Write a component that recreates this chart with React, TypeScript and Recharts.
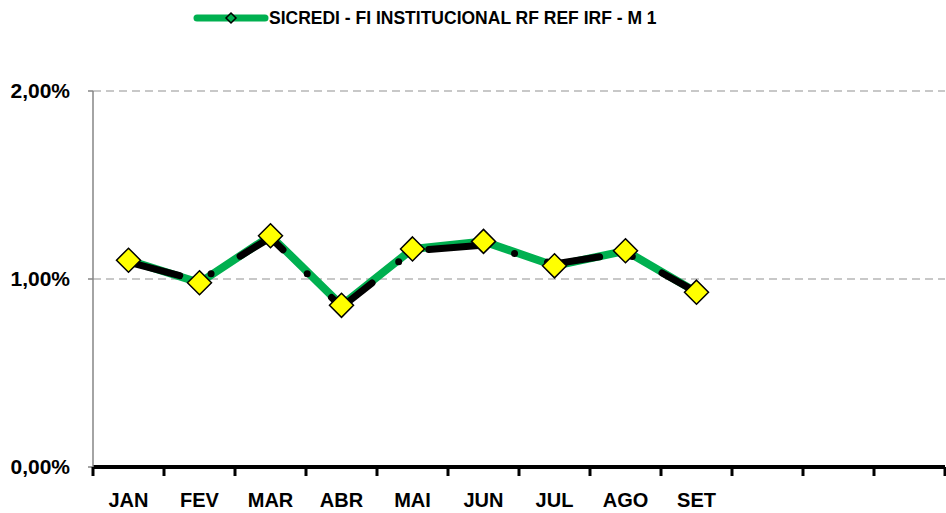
import { LineChart, Line, XAxis, YAxis, CartesianGrid, Legend } from 'recharts'

const MONTHS = ['JAN', 'FEV', 'MAR', 'ABR', 'MAI', 'JUN', 'JUL', 'AGO', 'SET', 'OUT', 'NOV', 'DEZ']
// only months with data get a label
const MONTH_LABELS = ['JAN', 'FEV', 'MAR', 'ABR', 'MAI', 'JUN', 'JUL', 'AGO', 'SET', '', '', '']
const FUND = [1.10, 0.98, 1.23, 0.86, 1.16, 1.20, 1.07, 1.15, 0.93, null, null, null]
const BENCH = [1.09, 0.99, 1.22, 0.85, 1.15, 1.18, 1.08, 1.14, 0.93, null, null, null]
const Y_TICKS = [0, 1, 2]
const FUND_NAME = 'SICREDI - FI INSTITUCIONAL RF REF IRF - M 1'

const W = 946
const H = 513
const Y_AXIS_W = 93
const RIGHT = 1
const LEGEND_H = 36
const BAND = (W - Y_AXIS_W - RIGHT) / MONTHS.length
const GREEN = '#00b050'
const FONT = '"Liberation Sans", Arial, sans-serif'

const data = MONTHS.map((m, i) => ({ month: m, fund: FUND[i], bench: BENCH[i] }))

const fmtPct = (v: number) => v.toFixed(2).replace('.', ',') + '%'

function Diamond(props: any) {
  const { cx, cy, index } = props
  if (cx == null || cy == null) return <g key={`d-${index}`} />
  const r = 12
  return (
    <polygon
      key={`d-${index}`}
      points={`${cx},${cy - r} ${cx + r},${cy} ${cx},${cy + r} ${cx - r},${cy}`}
      fill="#ffff00"
      stroke="#000"
      strokeWidth={1.5}
    />
  )
}

function MonthTick(props: any) {
  const { x, y, index } = props
  const left = x - BAND / 2
  const last = index === MONTHS.length - 1
  return (
    <g>
      <line x1={left} y1={y} x2={left} y2={y + 9} stroke="#000" strokeWidth={3} />
      {last && <line x1={x + BAND / 2} y1={y} x2={x + BAND / 2} y2={y + 9} stroke="#000" strokeWidth={3} />}
      <text x={x} y={y + 40} textAnchor="middle" fontSize={20} fontWeight="bold" fontFamily={FONT} fill="#000">
        {MONTH_LABELS[index]}
      </text>
    </g>
  )
}

function LegendBox() {
  const cx = 231
  const cy = 18
  const r = 5
  return (
    <svg width={W} height={LEGEND_H} style={{ display: 'block' }}>
      <line x1={197} y1={cy} x2={265} y2={cy} stroke={GREEN} strokeWidth={7} strokeLinecap="round" />
      <polygon
        points={`${cx},${cy - r} ${cx + r},${cy} ${cx},${cy + r} ${cx - r},${cy}`}
        fill={GREEN}
        stroke="#000"
        strokeWidth={1.5}
      />
      <text x={269} y={24} fontSize={17.5} fontWeight="bold" fontFamily={FONT} fill="#000">
        {FUND_NAME}
      </text>
    </svg>
  )
}

export default function App() {
  return (
    <div style={{ position: 'absolute', left: 0, top: 0, width: W, height: H, background: '#fff' }}>
      <LineChart
        width={W}
        height={H}
        data={data}
        margin={{ top: 91 - LEGEND_H, right: RIGHT, bottom: 0, left: 0 }}
      >
        <Legend
          verticalAlign="top"
          align="left"
          wrapperStyle={{ top: 0, left: 0 }}
          content={() => <LegendBox />}
        />
        <CartesianGrid vertical={false} stroke="#c8c8c8" strokeWidth={2} strokeDasharray="8 5" />
        <XAxis
          dataKey="month"
          scale="band"
          interval={0}
          height={46}
          tickSize={0}
          tickMargin={0}
          tickLine={false}
          axisLine={{ stroke: '#000', strokeWidth: 4 }}
          tick={<MonthTick />}
        />
        <YAxis
          width={Y_AXIS_W}
          domain={[0, 2]}
          ticks={Y_TICKS}
          tickFormatter={fmtPct}
          tickSize={5}
          tickMargin={18}
          axisLine={{ stroke: '#868686', strokeWidth: 1.5 }}
          tickLine={{ stroke: '#868686', strokeWidth: 1.5 }}
          tick={{ fontSize: 21, fontWeight: 'bold', fontFamily: FONT, fill: '#000' }}
        />
        <Line
          dataKey="fund"
          name={FUND_NAME}
          stroke={GREEN}
          strokeWidth={8}
          strokeLinejoin="round"
          dot={false}
          activeDot={false}
          isAnimationActive={false}
        />
        <Line
          dataKey="bench"
          name="Benchmark"
          stroke="#000"
          strokeWidth={7}
          strokeDasharray="53 34 0 34"
          strokeLinecap="round"
          dot={false}
          activeDot={false}
          legendType="none"
          isAnimationActive={false}
        />
        <Line
          dataKey="fund"
          stroke="none"
          dot={(p: any) => <Diamond {...p} />}
          activeDot={false}
          legendType="none"
          isAnimationActive={false}
        />
      </LineChart>
    </div>
  )
}
